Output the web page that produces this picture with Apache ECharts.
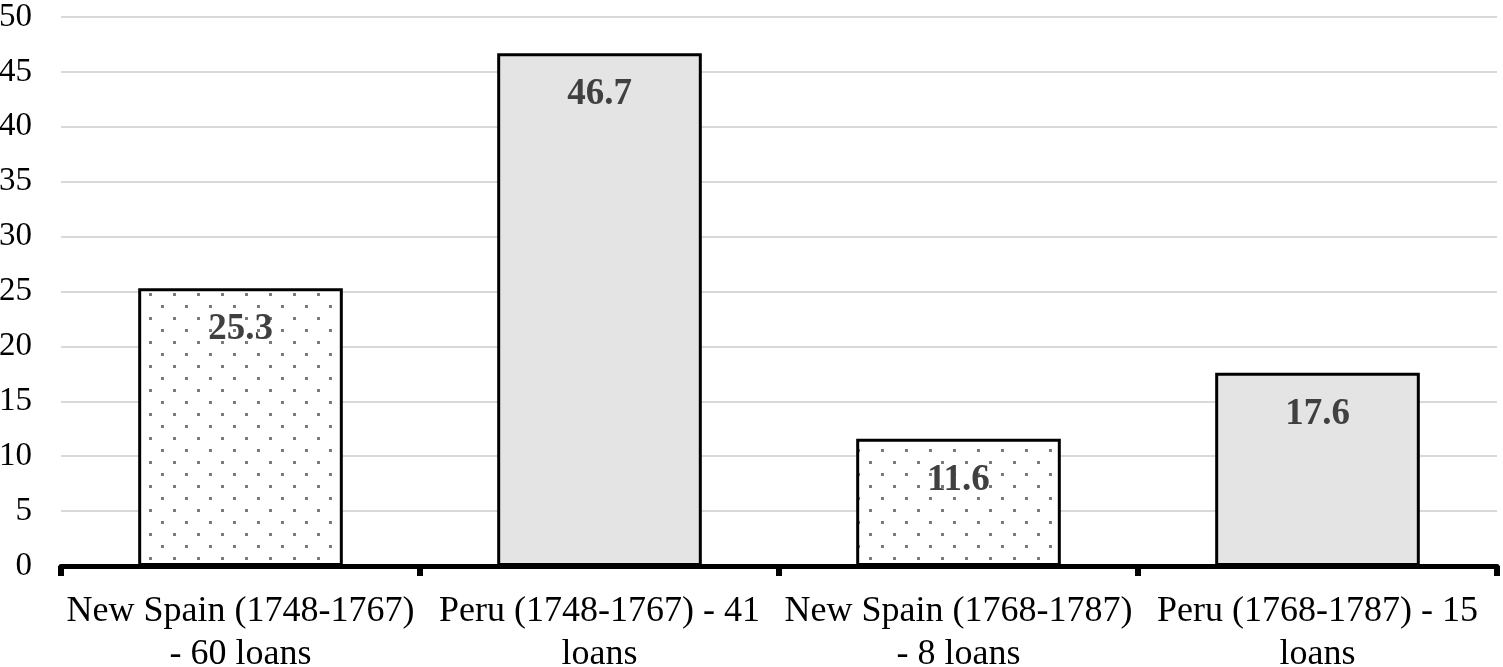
<!DOCTYPE html>
<html>
<head>
<meta charset="utf-8">
<title>Loans chart</title>
<script src="https://cdn.jsdelivr.net/npm/echarts@6/dist/echarts.min.js"></script>
<style>
  html, body { margin: 0; padding: 0; background: #fff; }
  #main { width: 1503px; height: 667px; }
</style>
</head>
<body>
<div id="main"></div>
<script>
// data
var categories = [
  'New Spain (1748-1767)\n- 60 loans',
  'Peru (1748-1767) - 41\nloans',
  'New Spain (1768-1787)\n- 8 loans',
  'Peru (1768-1787) - 15\nloans'
];
var values = [25.3, 46.7, 11.6, 17.6];
var dotted = [true, false, true, false]; // New Spain bars have the dot pattern
var yTicks = [0, 50, 5]; // min, max, step

// dot pattern for the New Spain bars
function makeDots() {
  var c = document.createElement('canvas');
  c.width = 24; c.height = 24;
  var ctx = c.getContext('2d');
  ctx.fillStyle = '#ffffff';
  ctx.fillRect(0, 0, 24, 24);
  ctx.fillStyle = '#7a7a7a';
  ctx.fillRect(5, 5, 3, 3);
  ctx.fillRect(17, 17, 3, 3);
  return c;
}
var dots = makeDots();

var barData = values.map(function (v, i) {
  return {
    value: v,
    itemStyle: {
      color: dotted[i] ? { image: dots, repeat: 'repeat' } : '#e4e4e4'
    }
  };
});

var chart = echarts.init(document.getElementById('main'));
chart.setOption({
  animation: false,
  backgroundColor: '#fff',
  grid: { left: 61, right: 6, top: 17, bottom: 101, containLabel: false, outerBoundsMode: 'none' },
  xAxis: {
    type: 'category',
    data: categories,
    axisLine: { show: true, lineStyle: { color: '#000', width: 5 } },
    axisTick: { show: true, length: 10, lineStyle: { color: '#000', width: 6 } },
    axisLabel: {
      fontFamily: 'Liberation Serif',
      fontSize: 36,
      lineHeight: 43,
      color: '#000',
      margin: 24,
      interval: 0
    }
  },
  yAxis: {
    type: 'value',
    min: yTicks[0],
    max: yTicks[1],
    interval: yTicks[2],
    axisLine: { show: false },
    axisTick: { show: false },
    splitLine: { lineStyle: { color: '#d9d9d9', width: 2 } },
    axisLabel: {
      fontFamily: 'Liberation Serif',
      fontSize: 33,
      color: '#000',
      margin: 29
    }
  },
  series: [{
    type: 'bar',
    data: barData,
    barCategoryGap: '43%',
    itemStyle: { borderColor: '#000', borderWidth: 3 },
    label: {
      show: true,
      position: 'insideTop',
      distance: 23,
      fontFamily: 'Liberation Serif',
      fontWeight: 'bold',
      fontSize: 37,
      color: '#404040'
    }
  }]
});
</script>
</body>
</html>
